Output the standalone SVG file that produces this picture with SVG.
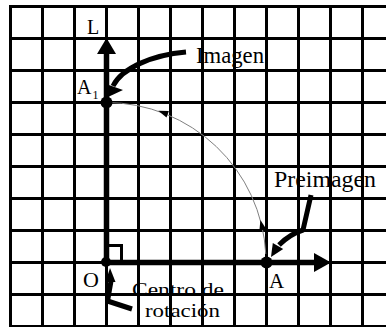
<svg xmlns="http://www.w3.org/2000/svg" width="386" height="327" viewBox="0 0 386 327">
<style>
.grid{stroke:#000;stroke-width:3;fill:none}
.axis{stroke:#000;stroke-width:5.5;fill:none}
.thick{stroke:#000;stroke-width:5;fill:none;stroke-linejoin:round}
.arc{stroke:#808080;stroke-width:1;fill:none}
text{font-family:"Liberation Serif","DejaVu Serif","Times New Roman",serif;fill:#000}
</style>
<rect width="386" height="327" fill="#fff"/>
<g id="grid">
<path class="grid" d="M10.5,5V327M42.5,5V327M74.5,5V327M106.5,5V327M138.5,5V327M170.5,5V327M202.5,5V327M234.5,5V327M266.5,5V327M298.5,5V327M330.5,5V327M362.5,5V327"/>
<path class="grid" d="M9,6.5H386M9,38.5H386M9,70.5H386M9,102.5H386M9,134.5H386M9,166.5H386M9,198.5H386M9,230.5H386M9,262.5H386M9,294.5H386M9,326.5H386"/>
</g>
<g id="connectors">
<g id="axis-L">
<path class="axis" d="M106.5,262.5V53"/>
<polygon points="106.5,38 97,54 116,54" fill="#000"/>
</g>
<g id="axis-x">
<path class="axis" d="M106.5,262.5H315"/>
<polygon points="331,262.5 314,253 314,272" fill="#000"/>
</g>
<path class="grid" d="M106.5,245.5H121.5V262"/>
<g id="rotation-arc">
<path class="arc" d="M106.5,102.5A160,160 0 0 1 265.8,254"/>
<polygon points="158.3,110.7 168.9,111 166.5,117.6" fill="#000"/>
<polygon points="260.4,220 266.2,229.1 259.4,230.7" fill="#000"/>
</g>
<g id="arrow-imagen">
<path class="thick" d="M186,52C152,55 122,68 113,86"/>
<polygon points="108,97 106,84 123,90" fill="#000"/>
</g>
<g id="arrow-preimagen">
<path class="thick" d="M311,195L303,230Q290,234 279,245"/>
<polygon points="271,257 272.8,242.9 283.2,249.1" fill="#000"/>
</g>
<g id="arrow-centro">
<path class="thick" d="M132,309L107.5,301L111,281"/>
<polygon points="110,268 105.5,282 115.5,282" fill="#000"/>
</g>
</g>
<g id="point-A1"><circle cx="106.5" cy="102.5" r="6" fill="#000"/>
<text x="77" y="94" font-size="20">A<tspan x="92.5" y="99" font-size="12">1</tspan></text></g>
<g id="point-O"><circle cx="106" cy="262" r="5" fill="#000"/>
<text x="83" y="287" font-size="22">O</text></g>
<g id="point-A"><circle cx="266.5" cy="262.5" r="6" fill="#000"/>
<text x="269" y="288" font-size="21">A</text></g>
<g id="label-L"><text x="87" y="34" font-size="20">L</text></g>
<g id="label-imagen"><text x="196" y="63" font-size="22.5" textLength="68" lengthAdjust="spacingAndGlyphs">Imagen</text></g>
<g id="label-preimagen"><text x="274" y="187" font-size="23" textLength="102" lengthAdjust="spacingAndGlyphs">Preimagen</text></g>
<g id="label-centro"><text font-size="19"><tspan x="132" y="296" textLength="92" lengthAdjust="spacingAndGlyphs">Centro de</tspan><tspan x="145" y="317.2" textLength="75" lengthAdjust="spacingAndGlyphs">rotación</tspan></text></g>
</svg>
